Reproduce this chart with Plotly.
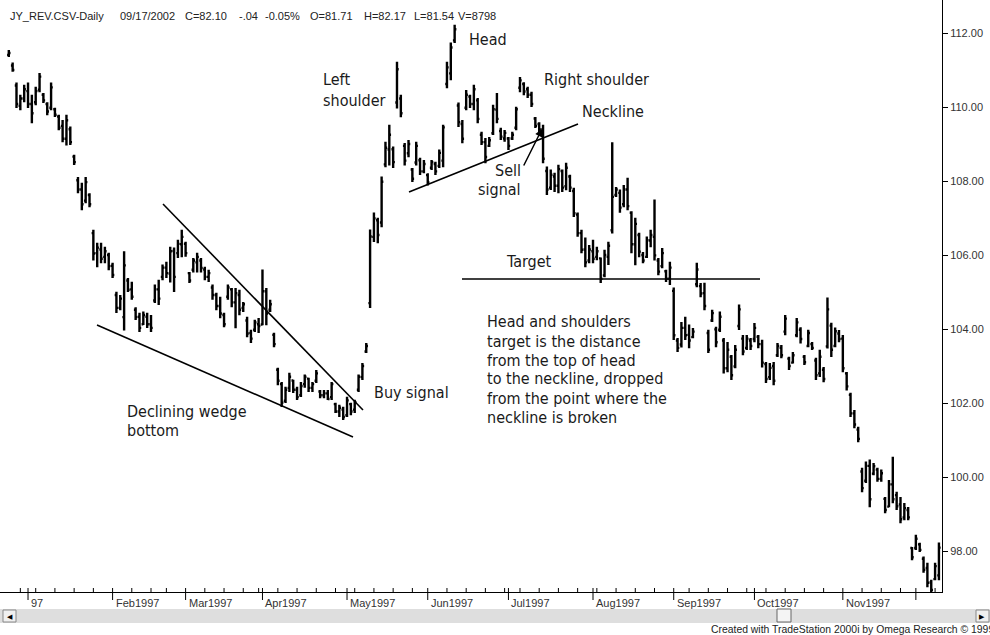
import plotly.graph_objects as go
import pandas as pd

# ---------------- data ----------------
highs = [111.54, 111.20, 110.66, 110.33, 110.60, 110.66, 110.33, 110.55, 110.92, 110.38,
         110.13, 110.66, 109.98, 109.79, 109.65, 109.79, 109.47, 108.71, 108.11, 107.95,
         108.11, 107.67, 106.68, 106.33, 106.33, 106.22, 106.06, 105.79, 105.01, 104.92,
         106.10, 105.38, 105.28, 104.59, 104.44, 104.47, 104.44, 104.38, 105.20, 105.33,
         105.74, 105.82, 106.22, 106.20, 106.41, 106.68, 106.36, 105.54, 105.92, 106.06,
         105.92, 105.68, 105.60, 105.20, 104.98, 104.87, 104.44, 105.20, 105.11, 105.11,
         105.06, 104.73, 104.33, 103.98, 104.25, 104.30, 105.61, 105.11, 104.79, 103.90,
         102.95, 102.57, 102.44, 102.82, 102.63, 102.44, 102.57, 102.77, 102.68, 102.57,
         102.89, 102.35, 102.35, 102.35, 102.57, 102.01, 101.95, 101.90, 102.17, 102.01,
         102.09, 102.77, 103.08, 103.62, 106.69, 107.15, 107.01, 108.12, 109.06, 109.52,
         108.93, 111.22, 110.33, 109.03, 109.11, 108.35, 109.06, 108.63, 108.57, 108.21,
         108.57, 108.52, 108.85, 109.52, 111.22, 111.74, 112.22, 110.12, 109.65, 110.46,
         110.33, 110.60, 110.24, 109.33, 109.16, 109.19, 110.06, 110.38, 109.44, 109.38,
         109.19, 109.33, 110.01, 110.81, 110.67, 110.55, 110.41, 109.73, 109.59, 109.52,
         108.39, 108.31, 108.22, 108.44, 108.31, 108.49, 108.17, 107.82, 107.15, 106.68,
         106.47, 106.27, 106.41, 106.22, 105.93, 106.14, 106.36, 109.05, 107.84, 107.77,
         107.89, 108.09, 107.18, 107.01, 106.60, 106.08, 106.50, 106.68, 107.50, 105.92,
         106.19, 105.60, 105.82, 105.12, 103.76, 104.19, 104.33, 104.12, 104.03, 105.79,
         105.24, 105.25, 103.98, 104.52, 104.06, 104.47, 103.76, 103.65, 103.30, 103.57,
         104.66, 103.84, 103.84, 103.76, 104.16, 103.84, 103.71, 103.11, 103.08, 103.11,
         103.62, 103.57, 104.38, 103.25, 103.38, 104.30, 104.05, 103.30, 103.98, 103.65,
         103.22, 103.44, 102.97, 104.85, 104.17, 104.04, 103.97, 103.84, 102.84, 102.28,
         101.81, 101.36, 100.25, 100.42, 100.47, 100.38, 100.25, 100.20, 99.46, 99.92,
         100.55, 99.60, 99.46, 99.30, 99.19, 98.11, 98.44, 98.22, 97.85, 97.68,
         97.22, 97.68, 98.23]

lows = [111.35, 110.95, 109.97, 109.91, 110.13, 109.97, 109.56, 110.05, 110.40, 110.11,
        109.78, 109.91, 109.73, 109.37, 109.05, 108.96, 108.97, 108.43, 107.67, 107.21,
        107.40, 107.29, 105.85, 105.67, 105.78, 105.78, 105.59, 105.38, 104.43, 104.51,
        103.96, 105.00, 104.79, 104.24, 103.92, 104.11, 104.03, 103.92, 104.70, 104.65,
        105.32, 105.38, 105.26, 105.00, 105.92, 105.94, 105.95, 105.24, 105.53, 105.53,
        105.53, 105.32, 105.27, 104.79, 104.51, 104.29, 104.05, 104.79, 104.59, 104.02,
        104.37, 104.46, 103.78, 103.62, 103.92, 103.89, 104.10, 104.10, 104.46, 103.51,
        102.48, 101.89, 102.00, 102.30, 102.27, 102.08, 102.16, 102.41, 102.30, 102.30,
        102.54, 102.13, 102.13, 102.08, 102.08, 101.73, 101.62, 101.54, 101.62, 101.67,
        101.73, 102.30, 102.62, 103.35, 104.57, 106.35, 106.32, 106.75, 108.37, 108.42,
        108.35, 109.96, 109.72, 108.42, 108.64, 107.97, 108.42, 108.16, 108.21, 107.88,
        108.30, 108.16, 108.35, 108.37, 110.51, 110.72, 111.73, 109.46, 109.02, 109.91,
        109.97, 109.91, 109.56, 108.97, 108.48, 108.92, 109.24, 109.56, 109.11, 109.06,
        108.84, 109.11, 109.37, 110.40, 110.32, 110.24, 110.00, 109.43, 109.29, 108.48,
        107.62, 107.76, 107.70, 107.67, 107.70, 107.75, 107.70, 107.03, 106.49, 106.05,
        105.67, 105.78, 105.78, 105.86, 105.24, 105.40, 105.73, 106.58, 107.57, 107.14,
        107.29, 107.21, 106.05, 105.72, 105.94, 105.78, 105.92, 106.21, 105.85, 105.45,
        105.64, 105.27, 105.19, 103.70, 103.38, 103.50, 103.70, 103.48, 103.75, 105.13,
        104.86, 104.51, 103.35, 104.19, 103.51, 103.92, 102.80, 102.83, 102.62, 102.94,
        103.97, 103.29, 103.43, 103.43, 103.64, 103.48, 102.96, 102.54, 102.62, 102.48,
        103.24, 103.21, 103.83, 102.89, 103.07, 103.78, 103.61, 103.03, 103.51, 103.43,
        102.62, 102.70, 102.56, 103.47, 103.24, 103.51, 103.64, 102.83, 102.34, 101.62,
        101.32, 100.94, 99.59, 99.84, 99.18, 100.05, 99.87, 99.87, 99.02, 99.18,
        99.29, 99.11, 98.75, 98.83, 98.83, 97.75, 98.03, 97.97, 97.41, 97.02,
        96.89, 97.21, 97.21]

opens = [111.41, 111.12, 110.58, 110.03, 110.23, 110.43, 110.08, 110.13, 110.47, 110.33,
         110.08, 109.98, 109.94, 109.74, 109.49, 109.14, 109.40, 108.66, 108.02, 107.77,
         107.47, 107.62, 106.59, 106.05, 106.15, 105.95, 106.00, 105.71, 104.92, 104.57,
         104.32, 105.31, 105.07, 104.52, 104.33, 104.13, 104.33, 104.13, 104.77, 105.07,
         105.41, 105.66, 105.50, 106.11, 106.05, 106.29, 106.30, 105.51, 105.60, 105.80,
         105.85, 105.61, 105.41, 105.12, 104.92, 104.62, 104.38, 104.87, 105.07, 104.72,
         104.92, 104.57, 104.23, 103.89, 103.98, 104.13, 104.12, 105.02, 104.52, 103.84,
         102.90, 102.51, 102.06, 102.41, 102.61, 102.36, 102.21, 102.51, 102.66, 102.41,
         102.60, 102.31, 102.21, 102.26, 102.16, 101.97, 101.77, 101.82, 101.67, 101.97,
         101.82, 102.36, 102.70, 103.39, 104.70, 106.49, 106.94, 106.88, 108.45, 108.85,
         108.86, 110.12, 110.23, 108.95, 108.75, 108.31, 108.50, 108.56, 108.26, 108.16,
         108.36, 108.46, 108.41, 108.55, 110.62, 110.91, 111.80, 110.04, 109.54, 109.98,
         110.28, 110.08, 110.18, 109.25, 109.05, 108.95, 109.29, 109.93, 109.35, 109.15,
         109.15, 109.15, 109.44, 110.52, 110.62, 110.48, 110.33, 109.69, 109.54, 109.40,
         108.27, 107.82, 108.12, 107.87, 108.27, 107.86, 108.12, 107.73, 107.09, 106.59,
         106.15, 105.85, 106.10, 105.95, 105.91, 105.45, 105.95, 106.67, 107.62, 107.68,
         107.37, 107.77, 107.14, 106.29, 106.54, 106.00, 105.95, 106.39, 106.49, 105.85,
         105.70, 105.56, 105.36, 105.03, 103.69, 103.58, 104.03, 103.84, 103.78, 105.21,
         105.16, 104.97, 103.89, 104.23, 103.99, 103.98, 103.69, 102.94, 103.25, 102.99,
         104.08, 103.74, 103.49, 103.69, 103.73, 103.79, 103.59, 103.05, 102.70, 103.00,
         103.29, 103.49, 103.93, 103.20, 103.09, 103.83, 103.98, 103.25, 103.54, 103.59,
         103.15, 102.80, 102.90, 103.53, 104.09, 103.54, 103.88, 103.74, 102.80, 102.22,
         101.72, 101.28, 100.15, 99.90, 100.30, 100.09, 100.20, 99.95, 99.41, 99.20,
         99.80, 99.51, 99.26, 98.91, 99.11, 98.08, 98.08, 98.18, 97.79, 97.54,
         97.15, 97.24, 97.34]

closes = [111.46, 111.00, 110.08, 110.23, 110.48, 110.08, 109.83, 110.43, 110.82, 110.18,
          109.88, 110.53, 109.79, 109.44, 109.14, 109.64, 109.05, 108.51, 107.77, 107.37,
          107.97, 107.37, 106.04, 106.20, 105.90, 106.10, 105.70, 105.46, 104.57, 104.82,
          105.72, 105.06, 104.87, 104.32, 104.03, 104.38, 104.13, 104.03, 105.07, 104.82,
          105.66, 105.51, 106.10, 105.41, 106.30, 106.49, 106.05, 105.31, 105.85, 105.95,
          105.65, 105.41, 105.51, 104.92, 104.62, 104.42, 104.13, 105.12, 104.72, 104.97,
          104.52, 104.67, 103.88, 103.74, 104.18, 104.08, 105.02, 104.42, 104.67, 103.59,
          102.60, 102.01, 102.36, 102.71, 102.36, 102.16, 102.46, 102.71, 102.41, 102.51,
          102.80, 102.21, 102.26, 102.11, 102.51, 101.77, 101.87, 101.62, 102.07, 101.77,
          102.02, 102.71, 103.00, 103.54, 106.50, 106.99, 106.54, 107.98, 108.90, 109.25,
          108.51, 111.02, 109.83, 108.55, 109.00, 108.06, 108.95, 108.26, 108.46, 107.96,
          108.51, 108.26, 108.76, 109.45, 111.07, 111.61, 112.10, 109.59, 109.14, 110.33,
          110.08, 110.48, 109.68, 109.05, 108.65, 109.10, 109.94, 109.68, 109.20, 109.30,
          108.95, 109.25, 109.94, 110.72, 110.42, 110.33, 110.08, 109.49, 109.39, 108.60,
          107.77, 108.17, 107.87, 108.32, 107.82, 108.36, 107.82, 107.13, 106.59, 106.14,
          105.80, 106.15, 105.90, 106.10, 105.36, 106.00, 106.25, 107.57, 107.77, 107.28,
          107.77, 107.32, 106.29, 106.84, 106.09, 105.85, 106.40, 106.54, 105.99, 105.55,
          106.05, 105.36, 105.66, 103.83, 103.49, 104.03, 103.83, 103.69, 103.93, 105.61,
          104.96, 104.62, 103.44, 104.43, 103.64, 104.33, 102.94, 103.44, 102.75, 103.44,
          104.53, 103.39, 103.74, 103.54, 104.03, 103.59, 103.09, 102.65, 102.95, 102.60,
          103.54, 103.29, 104.28, 103.00, 103.29, 104.18, 103.73, 103.10, 103.89, 103.49,
          102.75, 103.25, 102.65, 104.53, 103.44, 103.94, 103.73, 102.94, 102.45, 101.72,
          101.42, 101.03, 99.70, 100.30, 99.40, 100.29, 99.95, 100.10, 99.11, 99.80,
          99.40, 99.21, 98.86, 99.16, 98.91, 97.83, 98.33, 98.03, 97.49, 97.14,
          96.95, 97.59, 98.09]

holidays = ["1996-12-25", "1997-01-01", "1997-02-17", "1997-03-28", "1997-05-26",
            "1997-07-04", "1997-09-01", "1997-11-27"]
month_labels = ["97", "Feb1997", "Mar1997", "Apr1997", "May1997", "Jun1997",
                "Jul1997", "Aug1997", "Sep1997", "Oct1997", "Nov1997"]
price_ticks = [98, 100, 102, 104, 106, 108, 110, 112]
header_tokens = ["JY_REV.CSV-Daily", "09/17/2002", "C=82.10", "-.04", "-0.05%",
                 "O=81.71", "H=82.17", "L=81.54", "V=8798"]
footer_text = "Created with TradeStation 2000i by Omega Research \u00a9 1999"

# ---------------- calendar (trading days) ----------------
trading_days = [d for d in pd.bdate_range("1996-12-24", "1997-12-31")
                if d.strftime("%Y-%m-%d") not in holidays][:len(highs)]
dates = [d.strftime("%Y-%m-%d") for d in trading_days]

month_starts, week_starts = [], []
prev = None
for d in trading_days:
    if prev is not None:
        if d.month != prev.month:
            month_starts.append(d.strftime("%Y-%m-%d"))
        elif d.isocalendar()[1] != prev.isocalendar()[1]:
            week_starts.append(d.strftime("%Y-%m-%d"))
    prev = d

# ---------------- layout geometry ----------------
W, H = 990, 635
PW, PH = 942, 592          # plot area size in px
PX_PER_UNIT = 37.0
Y_TOP = 112 + 33 / PX_PER_UNIT


def px(x):
    return x / PW


def py(y):
    return (PH - y) / PH


NARROW = "DejaVu Sans Condensed, Liberation Sans Narrow, Arial Narrow, sans-serif"
ARIAL = "Arial, Liberation Sans, sans-serif"

fig = go.Figure(go.Ohlc(
    x=dates, open=opens, high=highs, low=lows, close=closes,
    increasing=dict(line=dict(color="black", width=2.4)),
    decreasing=dict(line=dict(color="black", width=2.4)),
    tickwidth=0.45, hoverinfo="skip", showlegend=False))

shapes = []
# trend lines
for (x0, y0, x1, y1) in [(163, 204, 363, 410), (97, 325, 353, 437),
                         (409, 192, 578, 124), (462, 279, 760, 279)]:
    shapes.append(dict(type="line", xref="paper", yref="paper",
                       x0=px(x0), y0=py(y0), x1=px(x1), y1=py(y1),
                       line=dict(color="black", width=1.6)))
# weekly ticks and month ticks on the time axis
for d in week_starts:
    shapes.append(dict(type="line", xref="x", yref="paper", x0=d, x1=d,
                       y0=py(592), y1=py(588), line=dict(color="black", width=1)))
for d in month_starts:
    shapes.append(dict(type="line", xref="x", yref="paper", x0=d, x1=d,
                       y0=py(588), y1=py(600), line=dict(color="black", width=1)))
# scroll bar
shapes.append(dict(type="rect", xref="paper", yref="paper", x0=px(0), x1=px(W),
                   y0=py(609), y1=py(623), fillcolor="#dedede", line=dict(width=0)))
for (a, b) in [(3, 16), (976, 989)]:
    shapes.append(dict(type="rect", xref="paper", yref="paper", x0=px(a), x1=px(b),
                       y0=py(610), y1=py(622), fillcolor="#f0f0f0",
                       line=dict(color="#888888", width=1)))
shapes.append(dict(type="rect", xref="paper", yref="paper", x0=px(777), x1=px(791),
                   y0=py(609), y1=py(622), fillcolor="#f4f4f4",
                   line=dict(color="#666666", width=1)))

annotations = []


def label(text, x, y, anchor="left", size=16, family=NARROW, color="#1a1a1a"):
    annotations.append(dict(text=text, x=px(x), y=py(y), xref="paper", yref="paper",
                            xanchor=anchor, yanchor="middle", showarrow=False,
                            font=dict(family=family, size=size, color=color)))


for tok, xpos in zip(header_tokens, [8, 118, 183, 237, 263, 308, 362, 412, 456]):
    label(tok, xpos, 16, size=11, family=ARIAL, color="#222222")
label("Head", 467, 39)
label("Left", 321, 80)
label("shoulder", 321, 100)
label("Right shoulder", 542, 80)
label("Neckline", 580, 112)
label("Sell", 523, 170, anchor="right")
label("signal", 523, 189, anchor="right")
label("Target", 504, 261)
label("Buy signal", 372, 392)
label("Declining wedge", 125, 411)
label("bottom", 125, 430)
for k, line in enumerate(["Head and shoulders", "target is the distance",
                          "from the top of head", "to the neckline, dropped",
                          "from the point where the", "neckline is broken"]):
    label(line, 485, 322 + 19 * k)
label(footer_text, 709, 629, size=10.4, family=ARIAL, color="#222222")
label("\u25c0", 9.5, 616, anchor="center", size=7, family=ARIAL, color="#000000")
label("\u25b6", 982.5, 616, anchor="center", size=7, family=ARIAL, color="#000000")

# sell-signal arrow
annotations.append(dict(x=px(542), y=py(129), xref="paper", yref="paper", text="",
                        showarrow=True, ax=-19, ay=38, arrowhead=2, arrowsize=1,
                        arrowwidth=1.5, arrowcolor="black"))

# month labels
for d, t in zip(month_starts, month_labels):
    annotations.append(dict(text=t, x=d, y=py(603), xref="x", yref="paper",
                            xanchor="left", yanchor="middle", xshift=1, showarrow=False,
                            font=dict(family=ARIAL, size=11, color="#333333")))

fig.update_layout(
    width=W, height=H, margin=dict(l=0, r=W - PW, t=0, b=H - PH),
    paper_bgcolor="white", plot_bgcolor="white",
    shapes=shapes, annotations=annotations, showlegend=False,
    xaxis=dict(type="category", categoryorder="trace", range=[-2.29, 242.8],
               rangeslider=dict(visible=False), showgrid=False, zeroline=False,
               showline=True, linecolor="black", linewidth=1,
               ticks="", showticklabels=False, fixedrange=True),
    yaxis=dict(side="right", range=[Y_TOP - PH / PX_PER_UNIT, Y_TOP], showgrid=False,
               zeroline=False, showline=True, linecolor="black", linewidth=1,
               ticks="outside", ticklen=5, tickcolor="black",
               tickvals=price_ticks, tickformat=".2f",
               tickfont=dict(family=ARIAL, size=11, color="#333333"), fixedrange=True),
)

fig.write_html("out.html",
               config={"displayModeBar": False, "staticPlot": True},
               post_script="document.body.style.margin='0px';"
                           "document.body.style.overflow='hidden';")
